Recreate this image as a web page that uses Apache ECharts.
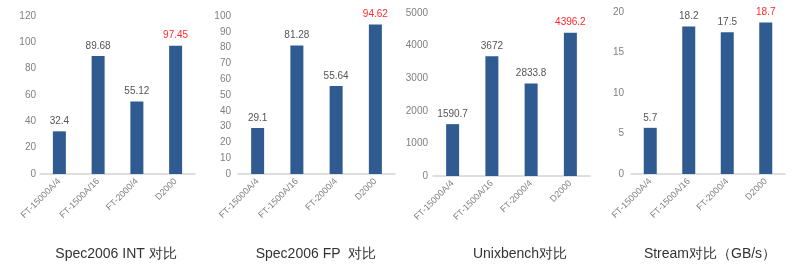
<!DOCTYPE html>
<html><head><meta charset="utf-8">
<script src="https://cdn.jsdelivr.net/npm/echarts@6/dist/echarts.min.js"></script>
<style>html,body{margin:0;padding:0;background:#fff}#c{width:800px;height:266px}</style>
</head><body><div id="c"></div>
<script>
var categories = ['FT-15000A/4', 'FT-1500A/16', 'FT-2000/4', 'D2000'];
var titles = ['Spec2006 INT 对比', 'Spec2006 FP  对比', 'Unixbench对比', 'Stream对比（GB/s）'];
var specInt = [32.4, 89.68, 55.12, 97.45];
var specFp = [29.1, 81.28, 55.64, 94.62];
var unixbench = [1590.7, 3672, 2833.8, 4396.2];
var stream = [5.7, 18.2, 17.5, 18.7];
var yMax = [120, 100, 5000, 20];
var yInterval = [20, 10, 1000, 5];

var seriesData = [specInt, specFp, unixbench, stream];
var grids = [
  {left: 40, width: 155, top: 16, height: 158},
  {left: 238, width: 157, top: 16, height: 158},
  {left: 433, width: 157, top: 13, height: 163},
  {left: 631, width: 154, top: 12, height: 162}
];
var yLabelMargin = [4, 7, 5, 7];
var titleX = [111, 311, 515, 705];
var font = 'Liberation Sans, Arial, sans-serif';

var option = {
  animation: false,
  title: titles.map(function (t, i) {
    return {text: t, left: titleX[i], top: 242, textAlign: 'center',
      textStyle: {fontSize: 14, fontWeight: 'normal', color: '#333', fontFamily: font}};
  }),
  grid: grids,
  xAxis: seriesData.map(function (d, i) {
    return {type: 'category', gridIndex: i, data: categories,
      axisLine: {lineStyle: {color: '#d4d4d4', width: 1.5}},
      axisTick: {inside: true, length: 3, lineStyle: {color: '#d4d4d4'}},
      axisLabel: {rotate: 45, fontSize: 9, color: '#7f7f7f', margin: 6, fontFamily: font}};
  }),
  yAxis: seriesData.map(function (d, i) {
    return {type: 'value', gridIndex: i, min: 0, max: yMax[i], interval: yInterval[i],
      axisLine: {show: false}, axisTick: {show: false}, splitLine: {show: false},
      axisLabel: {fontSize: 10, color: '#7f7f7f', margin: yLabelMargin[i], fontFamily: font,
        formatter: function (v) { return String(v); }}};
  }),
  series: seriesData.map(function (d, i) {
    return {type: 'bar', xAxisIndex: i, yAxisIndex: i, barWidth: 13,
      itemStyle: {color: '#2f5b90'},
      label: {show: true, position: 'top', fontSize: 10, color: '#555', distance: 5, fontFamily: font},
      data: d.map(function (v, j) {
        return j === d.length - 1 ? {value: v, label: {color: '#ff2a2a'}} : v;
      })};
  })
};
echarts.init(document.getElementById('c')).setOption(option);
</script></body></html>
